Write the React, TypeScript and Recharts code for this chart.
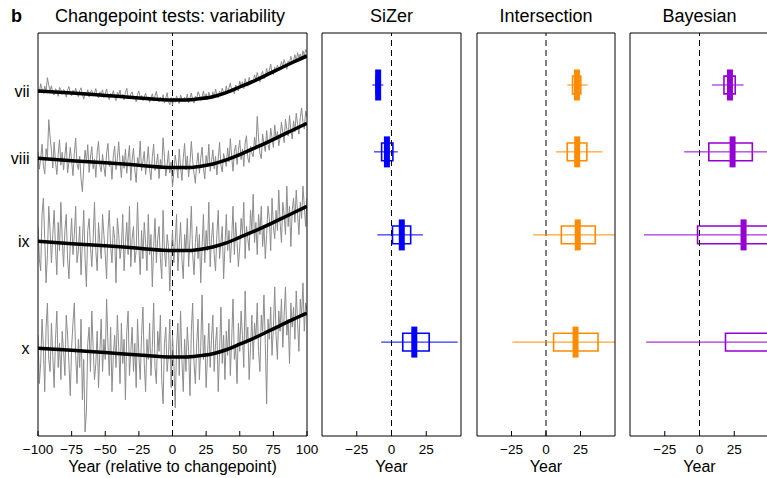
import {
  ComposedChart,
  Line,
  ReferenceArea,
  ReferenceLine,
  Scatter,
  XAxis,
  YAxis,
} from "recharts";

const FONT = '"Liberation Sans", Arial, Helvetica, sans-serif';

const rowLabels = ["vii", "viii", "ix", "x"];

// left panel: annual series from -100 to 100 (arbitrary offset units)
const firstYear = -100;
const yearStep = 1;

const viiSeries = [
  86.0, 85.2, 87.4, 86.1, 85.0, 86.8, 85.5, 88.9, 87.0, 85.8,
  86.9, 85.1, 84.6, 86.2, 85.7, 84.3, 86.5, 85.9, 84.8, 86.0,
  85.6, 84.1, 85.9, 86.7, 85.0, 84.4, 85.8, 84.9, 86.3, 85.1,
  84.2, 85.7, 86.4, 84.8, 83.6, 85.3, 84.6, 85.9, 84.1, 85.4,
  85.8, 84.3, 85.1, 86.2, 84.5, 83.9, 85.4, 84.7, 85.9, 84.0,
  84.9, 86.1, 84.2, 83.5, 85.0, 84.4, 85.7, 84.1, 83.2, 85.3,
  84.6, 85.8, 83.9, 84.8, 83.4, 85.2, 86.3, 84.0, 83.7, 84.9,
  85.4, 83.6, 84.3, 82.9, 84.8, 85.6, 83.8, 84.5, 83.2, 84.0,
  85.1, 83.4, 84.2, 82.8, 83.9, 84.9, 83.1, 84.4, 85.5, 83.6,
  82.9, 84.1, 83.3, 84.7, 82.6, 83.8, 85.2, 83.0, 82.2, 84.0,
  82.1, 83.9, 82.8, 84.4, 83.2, 82.5, 84.6, 83.7, 82.9, 84.1,
  83.3, 84.8, 82.7, 83.9, 85.1, 83.4, 82.6, 84.3, 83.8, 85.4,
  84.6, 83.2, 84.1, 85.6, 83.7, 84.9, 83.5, 85.3, 84.2, 83.6,
  85.4, 84.0, 86.1, 84.7, 83.9, 85.6, 84.5, 86.3, 85.2, 84.8,
  86.9, 85.1, 86.4, 87.6, 85.7, 86.2, 84.9, 87.1, 86.5, 85.6,
  88.1, 86.6, 87.9, 86.2, 88.7, 87.4, 86.8, 89.0, 87.6, 88.3,
  87.9, 89.6, 88.4, 90.2, 88.9, 87.8, 89.7, 90.5, 88.6, 89.3,
  91.2, 89.5, 90.8, 92.3, 90.1, 89.7, 91.5, 90.6, 92.0, 91.1,
  91.4, 92.9, 91.7, 93.4, 92.2, 91.0, 93.1, 92.6, 94.2, 92.8,
  93.2, 94.6, 93.0, 95.1, 93.9, 94.8, 93.4, 95.6, 94.3, 95.9,
  95.2,
];

const viiiSeries = [
  70.5, 66.2, 68.9, 72.4, 67.1, 65.0, 71.3, 69.0, 78.5, 74.2,
  70.8, 66.5, 72.9, 68.1, 64.9, 69.8, 73.5, 67.2, 70.4, 66.0,
  69.7, 72.8, 65.3, 67.9, 71.6, 68.2, 64.6, 70.1, 73.9, 67.5,
  66.1, 69.4, 63.8, 60.6, 66.7, 70.9, 68.0, 72.3, 65.4, 69.2,
  71.8, 66.3, 68.7, 64.2, 70.5, 73.1, 67.0, 65.6, 69.9, 66.8,
  64.4, 70.2, 72.6, 66.9, 68.3, 63.7, 69.5, 71.9, 66.1, 68.8,
  73.0, 67.8, 64.1, 69.6, 66.4, 71.2, 65.2, 68.9, 72.1, 63.4,
  68.5, 71.4, 66.0, 62.9, 69.1, 67.6, 73.2, 65.8, 68.2, 70.6,
  64.9, 67.9, 71.8, 66.2, 63.6, 69.3, 72.4, 65.9, 67.4, 70.0,
  63.9, 68.6, 66.3, 74.0, 69.2, 64.5, 67.1, 70.8, 65.3, 68.0,
  61.8, 65.5, 69.7, 67.3, 64.0, 71.2, 66.8, 63.4, 68.9, 72.6,
  66.0, 69.5, 64.3, 67.8, 73.1, 68.4, 65.1, 62.7, 67.6, 70.3,
  65.2, 68.9, 71.7, 66.4, 63.8, 69.6, 67.0, 72.4, 65.7, 68.1,
  71.0, 66.3, 69.4, 64.8, 68.7, 72.9, 67.2, 65.5, 70.1, 68.4,
  66.9, 71.5, 68.0, 73.8, 69.3, 65.7, 70.6, 72.2, 67.4, 70.9,
  73.4, 68.6, 71.2, 66.9, 72.7, 74.5, 69.0, 67.8, 71.9, 70.2,
  69.3, 74.1, 71.5, 79.3, 73.7, 70.2, 68.8, 74.9, 72.4, 70.6,
  75.8, 72.3, 70.9, 76.4, 74.1, 71.6, 77.2, 73.5, 75.6, 72.0,
  74.0, 77.9, 75.3, 72.8, 78.6, 76.1, 74.4, 79.5, 75.9, 73.7,
  78.2, 75.5, 80.1, 77.3, 74.9, 79.0, 81.4, 77.8, 76.2, 80.6,
  79.2,
];

const ixSeries = [
  52, 44, 41, 55, 59, 49, 38, 45, 57, 51,
  43, 50, 56, 47, 40, 53, 46, 58, 49, 42,
  51, 55, 44, 39, 48, 54, 45, 50, 57, 43,
  46, 52, 40, 48, 56, 44, 37, 51, 54, 47,
  42, 49, 58, 46, 41, 53, 48, 44, 55, 50,
  45, 39, 51, 56, 47, 43, 52, 49, 38, 54,
  50, 44, 47, 55, 41, 48, 53, 45, 57, 42,
  49, 52, 43, 46, 58, 47, 40, 51, 44, 53,
  48, 41, 55, 45, 50, 37, 47, 54, 43, 49,
  52, 44, 39, 56, 46, 42, 50, 47, 36, 45,
  51, 43, 48, 55, 41, 47, 53, 44, 39, 50,
  46, 54, 42, 49, 57, 45, 40, 48, 52, 44,
  50, 38, 47, 55, 43, 51, 46, 58, 42, 49,
  53, 45, 41, 50, 56, 44, 48, 52, 39, 47,
  55, 46, 51, 43, 49, 57, 45, 53, 48, 42,
  47, 54, 50, 58, 44, 52, 49, 46, 56, 51,
  60, 48, 53, 45, 55, 50, 57, 47, 52, 44,
  50, 57, 54, 46, 59, 52, 49, 56, 51, 61,
  53, 48, 58, 55, 50, 62, 52, 57, 47, 56,
  59, 53, 61, 55, 50, 58, 54, 62, 57, 52,
  59,
];

const xSeries = [
  25, 13, 18, 29, 22, 11, 27, 33, 19, 16,
  28, 20, 12, 24, 31, 17, 23, 14, 26, 21,
  15, 30, 25, 18, 10, 22, 28, 33, 20, 13,
  24, 17, 29, 9, 19, 1, 6, 23, 27, 16,
  31, 22, 14, 18, 26, 12, 21, 29, 16, 24,
  19, 34, 23, 15, 27, 11, 20, 25, 17, 30,
  22, 13, 28, 18, 24, 9, 26, 31, 15, 21,
  27, 16, 23, 12, 29, 20, 14, 25, 32, 18,
  11, 24, 19, 28, 15, 22, 33, 17, 13, 26,
  21, 30, 14, 8, 23, 27, 16, 20, 29, 12,
  25, 18, 7, 22, 28, 15, 31, 19, 11, 24,
  16, 27, 21, 10, 26, 33, 18, 13, 23, 29,
  14, 22, 35, 19, 25, 12, 20, 28, 17, 24,
  30, 16, 23, 27, 11, 21, 32, 18, 25, 14,
  26, 20, 29, 15, 24, 34, 19, 22, 13, 28,
  21, 31, 25, 17, 36, 23, 27, 14, 22, 30,
  19, 28, 24, 33, 21, 16, 30, 26, 35, 23,
  8, 29, 24, 32, 20, 27, 37, 25, 19, 31,
  26, 34, 22, 30, 37, 25, 29, 18, 33, 27,
  32, 24, 36, 28, 21, 34, 30, 38, 26, 33,
  31,
];

// smooth fits
const fitYears = [-100, -75, -50, -25, 0, 10, 20, 30, 40, 50, 60, 70, 80, 90, 100];
const viiFit = [85.6, 85.1, 84.5, 83.9, 83.4, 83.4, 83.7, 84.2, 85.2, 86.6, 88.0, 89.6, 91.2, 92.8, 94.3];
const viiiFit = [68.9, 68.3, 67.8, 67.2, 66.6, 66.6, 66.9, 67.5, 68.5, 69.8, 71.3, 72.8, 74.4, 76.0, 77.6];
const ixFit = [48.3, 47.7, 47.2, 46.6, 46.0, 46.0, 46.3, 46.9, 47.9, 49.3, 50.7, 52.2, 53.8, 55.4, 57.0];
const xFit = [21.8, 21.3, 20.7, 20.1, 19.6, 19.6, 19.9, 20.4, 21.4, 22.8, 24.2, 25.8, 27.4, 29.0, 30.5];

const yearTicks = [-100, -75, -50, -25, 0, 25, 50, 75, 100];
const panelTicks = [-25, 0, 25];

// changepoint estimates (years): whisker lo/hi, box q1/q3, median
const boxLevels = [87.1, 70.5, 49.9, 23.3];

const sizerLo = [-13.8, -12.6, -10.2, -7.4];
const sizerQ1 = [-11.0, -7.1, 0.7, 8.1];
const sizerMed = [-9.6, -3.3, 7.4, 16.4];
const sizerQ3 = [-8.5, 1.0, 13.8, 27.1];
const sizerHi = [-5.9, 4.5, 22.6, 47.6];

const interLo = [15.4, 7.3, -9.3, -24.3];
const interQ1 = [19.2, 15.4, 11.1, 5.5];
const interMed = [22.4, 22.6, 23.0, 21.4];
const interQ3 = [25.2, 29.6, 35.7, 37.7];
const interHi = [30.1, 40.9, 58.0, 62.0];

const bayesLo = [8.9, -11.0, -39.9, -38.4];
const bayesQ1 = [17.6, 6.7, -1.4, 18.7];
const bayesMed = [21.9, 23.8, 31.7, 60.0];
const bayesQ3 = [25.7, 38.0, 70.0, 80.0];
const bayesHi = [31.7, 75.0, 95.0, 110.0];

const grayTable = viiSeries.map((v, i) => ({
  year: firstYear + i * yearStep,
  vii: v,
  viii: viiiSeries[i],
  ix: ixSeries[i],
  x: xSeries[i],
}));

const fitTable = fitYears.map((year, i) => ({
  year,
  vii: viiFit[i],
  viii: viiiFit[i],
  ix: ixFit[i],
  x: xFit[i],
}));

const rowTicks = [viiFit[0], viiiFit[0], ixFit[0], xFit[0]];

const fmtYear = (v: number) => (v < 0 ? "\u2212" + Math.abs(v) : String(v));
const tickStyle = { fontSize: 13.5, fill: "#000" };
const labelStyle = { fontSize: 16, fill: "#000" };

function LeftPanel() {
  return (
    <ComposedChart
      width={320}
      height={478}
      data={grayTable}
      margin={{ top: 32, right: 12, bottom: 0, left: 0 }}
    >
      <XAxis
        dataKey="year"
        type="number"
        domain={[-100, 100]}
        allowDataOverflow
        ticks={yearTicks}
        interval={0}
        tickFormatter={fmtYear}
        tickSize={-5}
        tickMargin={13}
        height={42}
        stroke="#000"
        tick={tickStyle}
        label={{ value: "Year (relative to changepoint)", position: "insideBottom", offset: 6, ...labelStyle }}
      />
      <XAxis
        xAxisId="top"
        dataKey="year"
        orientation="top"
        type="number"
        domain={[-100, 100]}
        allowDataOverflow
        ticks={yearTicks}
        interval={0}
        tick={false}
        tickSize={-5}
        height={1}
        stroke="#000"
      />
      <YAxis
        type="number"
        domain={[0, 100]}
        allowDataOverflow
        ticks={rowTicks}
        interval={0}
        tickFormatter={(v: number) => rowLabels[rowTicks.indexOf(v)] ?? ""}
        width={38}
        tickSize={0}
        tickMargin={8.5}
        tickLine={false}
        stroke="#000"
        tick={{ fontSize: 16, fill: "#000" }}
      />
      <YAxis
        yAxisId="right"
        orientation="right"
        type="number"
        domain={[0, 100]}
        allowDataOverflow
        width={1}
        tick={false}
        tickLine={false}
        stroke="#000"
      />
      <ReferenceLine x={0} stroke="#000" strokeDasharray="6 4" />
      {rowLabels.map((k) => (
        <Line
          key={"g" + k}
          dataKey={k}
          type="linear"
          stroke="#8c8c8c"
          strokeWidth={1}
          dot={false}
          isAnimationActive={false}
        />
      ))}
      {rowLabels.map((k) => (
        <Line
          key={"f" + k}
          data={fitTable}
          dataKey={k}
          type="monotone"
          stroke="#000"
          strokeWidth={3.5}
          dot={false}
          isAnimationActive={false}
        />
      ))}
    </ComposedChart>
  );
}

type BoxProps = {
  color: string;
  lo: number[];
  q1: number[];
  med: number[];
  q3: number[];
  hi: number[];
  right: number;
};

function BoxPanel({ color, lo, q1, med, q3, hi, right }: BoxProps) {
  const rows = boxLevels.map((level, i) => ({
    level,
    lo: lo[i],
    q1: q1[i],
    med: med[i],
    q3: q3[i],
    hi: hi[i],
  }));
  const boxHalf = 2.2;
  return (
    <ComposedChart width={160} height={478} margin={{ top: 32, right: right - 1, bottom: 0, left: 0 }}>
      <XAxis
        dataKey="med"
        type="number"
        domain={[-50, 50]}
        allowDataOverflow
        ticks={panelTicks}
        interval={0}
        tickFormatter={fmtYear}
        tickSize={-5}
        tickMargin={13}
        height={42}
        stroke="#000"
        tick={tickStyle}
        label={{ value: "Year", position: "insideBottom", offset: 6, ...labelStyle }}
      />
      <XAxis
        xAxisId="top"
        dataKey="med"
        orientation="top"
        type="number"
        domain={[-50, 50]}
        allowDataOverflow
        ticks={panelTicks}
        interval={0}
        tick={false}
        tickSize={-5}
        height={1}
        stroke="#000"
      />
      <YAxis
        dataKey="level"
        type="number"
        domain={[0, 100]}
        allowDataOverflow
        width={10}
        tick={false}
        tickLine={false}
        stroke="#000"
      />
      <YAxis
        yAxisId="right"
        dataKey="level"
        orientation="right"
        type="number"
        domain={[0, 100]}
        allowDataOverflow
        width={1}
        tick={false}
        tickLine={false}
        stroke="#000"
      />
      <ReferenceLine x={0} stroke="#000" strokeDasharray="6 4" />
      {rows.map((r, i) => (
        <ReferenceLine
          key={"w" + i}
          segment={[
            { x: r.lo, y: r.level },
            { x: r.hi, y: r.level },
          ]}
          stroke={color}
          strokeWidth={1}
          ifOverflow="hidden"
        />
      ))}
      {rows.map((r, i) => (
        <ReferenceArea
          key={"b" + i}
          x1={r.q1}
          x2={r.q3}
          y1={r.level - boxHalf}
          y2={r.level + boxHalf}
          fill="none"
          fillOpacity={0}
          stroke={color}
          strokeWidth={1.6}
          ifOverflow="hidden"
        />
      ))}
      <Scatter
        data={rows}
        dataKey="level"
        isAnimationActive={false}
        shape={(p: any) => (
          <rect x={p.cx - 3} y={p.cy - 15.5} width={6} height={31} fill={color} />
        )}
      />
    </ComposedChart>
  );
}

const titleStyle = {
  position: "absolute" as const,
  top: 5,
  fontSize: 18,
  lineHeight: "22px",
  textAlign: "center" as const,
  color: "#000",
  whiteSpace: "nowrap" as const,
};

export default function App() {
  return (
    <div
      style={{
        position: "fixed",
        left: 0,
        top: 0,
        width: 767,
        height: 478,
        overflow: "hidden",
        background: "#fff",
        fontFamily: FONT,
      }}
    >
      <div style={{ ...titleStyle, left: 11, fontWeight: "bold", textAlign: "left" }}>b</div>
      <div style={{ ...titleStyle, left: 38, width: 264 }}>Changepoint tests: variability</div>
      <div style={{ ...titleStyle, left: 322, width: 139 }}>SiZer</div>
      <div style={{ ...titleStyle, left: 477, width: 138 }}>Intersection</div>
      <div style={{ ...titleStyle, left: 630, width: 139 }}>Bayesian</div>

      <div style={{ position: "absolute", left: 0, top: 0 }}>
        <LeftPanel />
      </div>
      <div style={{ position: "absolute", left: 312, top: 0 }}>
        <BoxPanel color="#0000ff" lo={sizerLo} q1={sizerQ1} med={sizerMed} q3={sizerQ3} hi={sizerHi} right={11} />
      </div>
      <div style={{ position: "absolute", left: 467, top: 0 }}>
        <BoxPanel color="#ff8c00" lo={interLo} q1={interQ1} med={interMed} q3={interQ3} hi={interHi} right={12} />
      </div>
      <div style={{ position: "absolute", left: 620, top: 0 }}>
        <BoxPanel color="#9400d3" lo={bayesLo} q1={bayesQ1} med={bayesMed} q3={bayesQ3} hi={bayesHi} right={11} />
      </div>
    </div>
  );
}
